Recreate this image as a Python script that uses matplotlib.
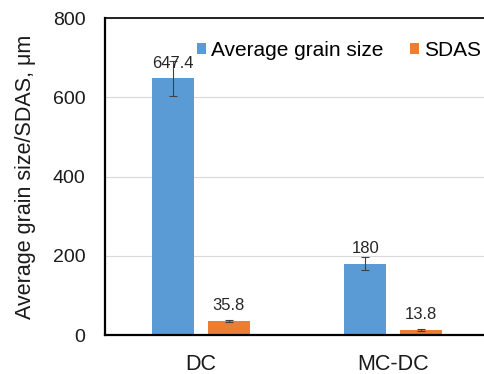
import matplotlib.pyplot as plt
import numpy as np

plt.rcParams['font.family'] = ['Liberation Sans', 'DejaVu Sans']

# casting methods and measured values
methods = ["DC", "MC-DC"]
grain_size = [647.4, 180]
grain_err = [45, 16]
sdas = [35.8, 13.8]
sdas_err = [3, 2.5]

blue = "#5B9BD5"
orange = "#ED7D31"

fig = plt.figure(figsize=(4.85, 3.74), dpi=100)
ax = fig.add_axes([105 / 485, 1 - 335 / 374, 384 / 485, 317 / 374])

x = np.arange(len(methods))
w = 0.22
off = 0.145

err_kw = dict(ecolor="#404040", elinewidth=0.8, capsize=3, capthick=0.8)
ax.bar(x - off, grain_size, w, yerr=grain_err, color=blue,
       label="Average grain size", error_kw=err_kw, zorder=2)
ax.bar(x + off, sdas, w, yerr=sdas_err, color=orange,
       label="SDAS", error_kw=err_kw, zorder=2)

# value labels above the bars
for xi, v in zip(x - off, grain_size):
    ax.text(xi, v + 20, f"{v:g}", ha="center", va="bottom", fontsize=12, color="#262626")
for xi, v in zip(x + off, sdas):
    ax.text(xi, v + 20, f"{v:g}", ha="center", va="bottom", fontsize=12, color="#262626")

ax.set_xlim(-0.5, 1.5)
ax.set_ylim(0, 800)
ax.set_yticks([0, 200, 400, 600, 800])
ax.set_xticks(x)
ax.set_xticklabels(methods)
ax.tick_params(axis="both", length=0, colors="#1a1a1a")
ax.tick_params(axis="y", pad=14, labelsize=14)
ax.tick_params(axis="x", pad=14, labelsize=15.5)
ax.yaxis.grid(True, color="#d9d9d9", linewidth=0.8, zorder=0)
ax.set_axisbelow(True)

for s in ["left", "bottom"]:
    ax.spines[s].set_linewidth(1.6)
    ax.spines[s].set_color("black")
ax.spines["top"].set_linewidth(1.2)
ax.spines["right"].set_visible(False)

ax.set_ylabel("Average grain size/SDAS, μm", fontsize=15.5, color="#1a1a1a", labelpad=12)

ax.legend(loc="upper left", bbox_to_anchor=(0.217, 0.955), ncol=2, frameon=False,
          fontsize=15, handlelength=0.45, handleheight=0.45, handletextpad=0.25,
          columnspacing=1.25, borderaxespad=0)

fig.savefig("out.png", dpi=100)
